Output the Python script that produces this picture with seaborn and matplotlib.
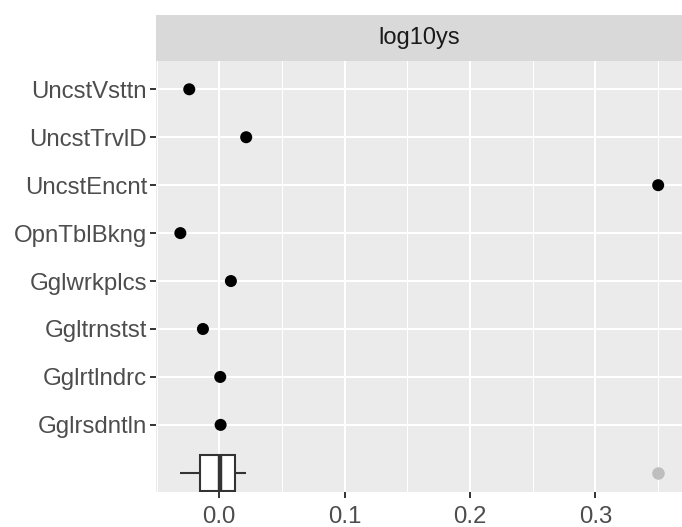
import numpy as np
import pandas as pd
import seaborn as sns
import matplotlib.pyplot as plt
from matplotlib.ticker import MultipleLocator

names = ["UncstVsttn", "UncstTrvlD", "UncstEncnt", "OpnTblBkng",
         "Gglwrkplcs", "Ggltrnstst", "Gglrtlndrc", "Gglrsdntln"]
values = [-0.0239, 0.0215, 0.35, -0.031, 0.0093, -0.013, 0.0008, 0.0011]
strip_label = "log10ys"
x_ticks = [0.0, 0.1, 0.2, 0.3]

plt.rcParams['font.family'] = ['Liberation Sans', 'DejaVu Sans']

df = pd.DataFrame({"name": names, "value": values})
order = names + [" "]
df_box = pd.DataFrame({"name": [" "] * len(values), "value": values})

W, H = 682, 527
fig = plt.figure(figsize=(W / 100, H / 100), dpi=100)
left, right, top, bottom = 156.4, 682, 61, 492
ax = fig.add_axes([left / W, 1 - bottom / H, (right - left) / W, (bottom - top) / H])
ax.set_facecolor("#EBEBEB")
for s in ax.spines.values():
    s.set_visible(False)

# grid
ax.xaxis.set_major_locator(MultipleLocator(0.1))
ax.xaxis.set_minor_locator(MultipleLocator(0.05))
ax.grid(which="major", axis="x", color="white", linewidth=1.5, zorder=0)
ax.grid(which="minor", axis="x", color="white", linewidth=0.75, zorder=0)
ax.set_axisbelow(True)
for i in range(len(names)):
    ax.axhline(i, color="white", linewidth=1.5, zorder=0)

sns.boxplot(data=df_box, x="value", y="name", order=order, ax=ax,
            width=0.75, color="white", linecolor="#333333", linewidth=1.5,
            whis=1.5, showcaps=False, fill=True,
            medianprops=dict(linewidth=3.2, color="#333333"),
            flierprops=dict(marker="o", markerfacecolor="#BEBEBE",
                            markeredgecolor="#BEBEBE", markersize=8))

sns.scatterplot(data=df, x="value", y="name", ax=ax, color="black",
                s=75, edgecolor="none", zorder=3)

ax.set_xlim(-0.0501, 0.369)
ax.set_ylim(8.4, -0.59)
ax.set_yticks(range(len(names)))
ax.set_yticklabels(names)
ax.set_xticks(x_ticks)
ax.set_xticklabels([f"{t:.1f}" for t in x_ticks])
ax.tick_params(axis="both", which="major", length=4.3, width=1.4, color="#333333",
               labelcolor="#4D4D4D", labelsize=17.3, pad=2.5)
ax.tick_params(axis="x", which="major", pad=5.5)
ax.tick_params(axis="x", which="minor", length=0)
ax.set_xlabel("")
ax.set_ylabel("")

# facet strip
sax = fig.add_axes([left / W, 1 - top / H, (right - left) / W, (top - 15) / H])
sax.set_facecolor("#D9D9D9")
sax.set_xticks([])
sax.set_yticks([])
for s in sax.spines.values():
    s.set_visible(False)
sax.text(0.5, 0.5, strip_label, ha="center", va="center", fontsize=17,
         color="#1A1A1A", transform=sax.transAxes)

fig.savefig("out.png", dpi=100)
